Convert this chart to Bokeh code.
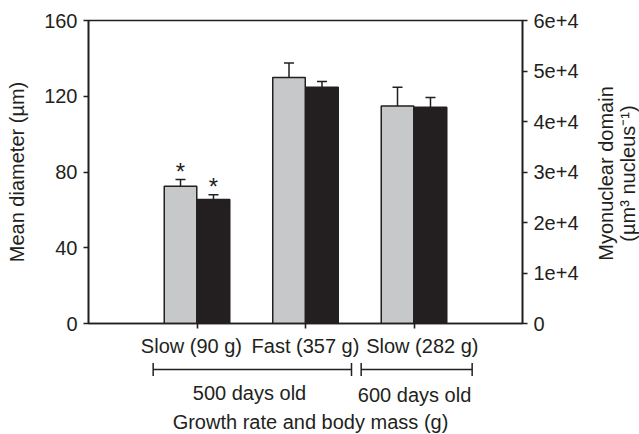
import math
from bokeh.plotting import figure
from bokeh.layouts import column, row
from bokeh.models import Range1d, LinearAxis, FixedTicker
from bokeh.core.properties import value
from bokeh.embed import file_html
from bokeh.resources import INLINE

# ---------------- data ----------------
groups = ["Slow (90 g)", "Fast (357 g)", "Slow (282 g)"]
diameter = [72.5, 129.9, 114.9]          # left axis, µm (grey bars)
diameter_err = [3.5, 7.6, 9.9]
domain = [24550, 46800, 42840]           # right axis, µm3 nucleus-1 (black bars)
domain_err = [930, 1120, 1910]
diameter_sig = ["*", "", ""]
domain_sig = ["*", "", ""]
left_ticks = [0, 40, 80, 120, 160]
right_ticks = [0, 10000, 20000, 30000, 40000, 50000, 60000]
right_tick_labels = ["0", "1e+4", "2e+4", "3e+4", "4e+4", "5e+4", "6e+4"]
age_labels = ["500 days old", "600 days old"]
x_title = "Growth rate and body mass (g)"
left_title = "Mean diameter (µm)"
right_title = ["Myonuclear domain", "(µm³ nucleus⁻¹)"]

# ---------------- layout ----------------
FONT = "Liberation Sans"
INK = "#231f20"
GREY = "#c7c8ca"
W, H = 639, 434
BL, BT = 88, 20
FRAME_W, FRAME_H = 434, 303
WL = 592                      # width of main + lower panels
BR = WL - BL - FRAME_W
BB = 38
H1 = BT + FRAME_H + BB
H2 = H - H1
NBSP = "\u00a0"
pad_left = [0, 0, 3]          # non-breaking spaces that nudge each group name
pad_right = [2, 0, 0]

xs = [i + 1 for i in range(len(groups))]
grey_x = [x - 0.152 for x in xs]
black_x = [x + 0.152 for x in xs]
BAR_W = 0.30

def blank(fig):
    fig.outline_line_color = None
    fig.xgrid.visible = False
    fig.ygrid.visible = False
    fig.background_fill_color = "white"
    fig.border_fill_color = "white"

x_range = Range1d(0, 4)
p = figure(width=WL, height=H1, output_backend="svg", toolbar_location=None,
           x_range=x_range, y_range=Range1d(0, 160),
           min_border_left=BL, min_border_right=BR,
           min_border_top=BT, min_border_bottom=BB)
p.extra_y_ranges = {"right": Range1d(0, 60000)}
blank(p)
p.outline_line_color = INK
p.outline_line_width = 1.6

def style_axis(ax):
    ax.major_tick_out = 5
    ax.major_tick_in = 0
    ax.minor_tick_out = 0
    ax.minor_tick_in = 0
    ax.axis_line_width = 1.6
    ax.axis_line_color = INK
    ax.major_tick_line_width = 1.6
    ax.major_tick_line_color = INK
    ax.major_label_text_font = FONT
    ax.major_label_text_font_size = "20px"
    ax.major_label_text_color = INK
    ax.major_label_standoff = 6
    ax.axis_label_text_font = FONT
    ax.axis_label_text_font_size = "20px"
    ax.axis_label_text_font_style = "normal"
    ax.axis_label_text_color = INK

xa = p.xaxis[0]
xa.ticker = FixedTicker(ticks=xs)
xa.major_label_overrides = {x: NBSP * a + g + NBSP * b
                            for x, g, a, b in zip(xs, groups, pad_left, pad_right)}
style_axis(xa)

ly = p.yaxis[0]
ly.ticker = FixedTicker(ticks=left_ticks)
ly.axis_label = left_title
style_axis(ly)
ly.axis_label_standoff = 13

ry = LinearAxis(y_range_name="right", ticker=FixedTicker(ticks=right_ticks),
                major_label_overrides=dict(zip(right_ticks, right_tick_labels)))
style_axis(ry)
p.add_layout(ry, "right")

# bars
p.vbar(x=grey_x, top=diameter, bottom=0, width=BAR_W, fill_color=GREY,
       line_color=INK, line_width=1.5)
p.vbar(x=black_x, top=domain, bottom=0, width=BAR_W, fill_color=INK,
       line_color=INK, line_width=1.5, y_range_name="right")

# error bars (upper only)
g_top = [v + e for v, e in zip(diameter, diameter_err)]
b_top = [v + e for v, e in zip(domain, domain_err)]
p.segment(x0=grey_x, y0=diameter, x1=grey_x, y1=g_top, line_color=INK, line_width=1.5)
p.scatter(x=grey_x, y=g_top, marker="dash", size=10, line_color=INK, line_width=1.5)
p.segment(x0=black_x, y0=domain, x1=black_x, y1=b_top, line_color=INK,
          line_width=1.5, y_range_name="right")
p.scatter(x=black_x, y=b_top, marker="dash", size=10, line_color=INK,
          line_width=1.5, y_range_name="right")

# significance stars
p.text(x=grey_x, y=g_top, text=diameter_sig, text_align="center",
       text_baseline="alphabetic", y_offset=-8, text_font=value(FONT),
       text_font_size="24px", text_color=INK)
p.text(x=black_x, y=b_top, text=domain_sig, text_align="center",
       text_baseline="alphabetic", y_offset=-8, text_font=value(FONT),
       text_font_size="24px", text_color=INK, y_range_name="right")

# ---------------- lower panel: age brackets, axis title ----------------
q = figure(width=WL, height=H2, output_backend="svg", toolbar_location=None,
           x_range=x_range, y_range=Range1d(H2, 0),
           x_axis_location=None, y_axis_location=None,
           min_border_left=BL, min_border_right=BR, min_border_top=0,
           min_border_bottom=0)
blank(q)

br_x0 = [0.596, 2.513]
br_x1 = [2.424, 3.536]
BR_Y = 369 - H1
q.segment(x0=br_x0, y0=[BR_Y] * 2, x1=br_x1, y1=[BR_Y] * 2, line_color=INK, line_width=1.5)
q.segment(x0=br_x0 + br_x1, y0=[BR_Y - 6.5] * 4, x1=br_x0 + br_x1,
          y1=[BR_Y + 6.5] * 4, line_color=INK, line_width=1.5)
q.text(x=[1.484, 3.005], y=[392 - H1, 394 - H1], text=age_labels,
       text_align="center", text_baseline="middle", text_font=value(FONT),
       text_font_size="20px", text_color=INK)
q.text(x=[2.046], y=[421 - H1], text=[x_title], text_align="center",
       text_baseline="middle", text_font=value(FONT), text_font_size="20px",
       text_color=INK)

# ---------------- right panel: right-axis title ----------------
RW = W - WL
r = figure(width=RW, height=H, output_backend="svg", toolbar_location=None,
           x_range=Range1d(0, RW), y_range=Range1d(0, H),
           x_axis_location=None, y_axis_location=None,
           min_border_left=0, min_border_right=0, min_border_top=0,
           min_border_bottom=0)
blank(r)
r.text(x=[605 - WL, 627 - WL], y=[H - 173, H - 173], text=right_title,
       angle=math.pi / 2, text_align="center", text_baseline="middle",
       text_font=value(FONT), text_font_size="20px", text_color=INK)

layout = row(column(p, q, spacing=0), r, spacing=0)
open("out.html", "w").write(file_html(layout, INLINE))
